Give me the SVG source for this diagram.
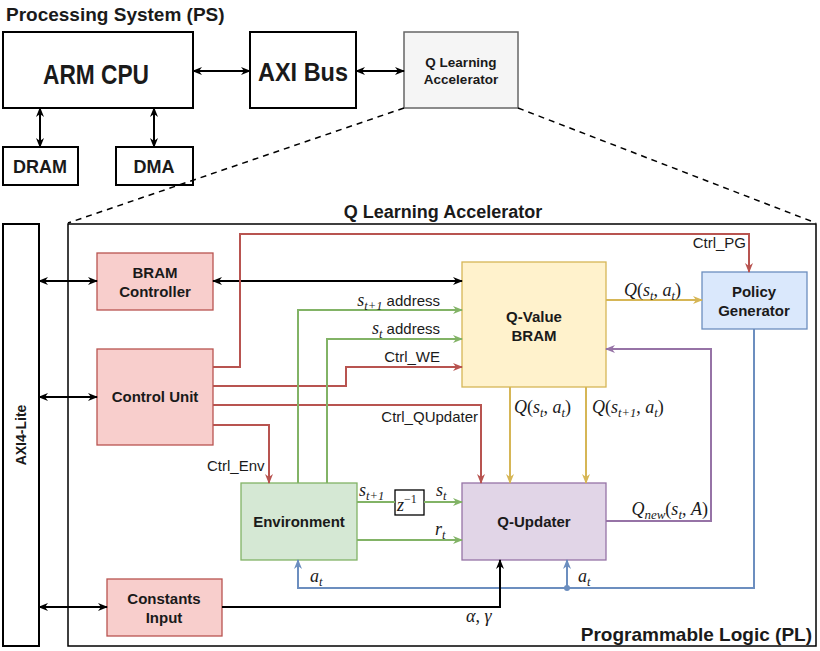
<svg xmlns="http://www.w3.org/2000/svg" width="820" height="651" viewBox="0 0 820 651">
<style>
.t{font-family:"Liberation Sans",Arial,sans-serif;}
.b{font-family:"Liberation Sans",Arial,sans-serif;font-weight:bold;fill:#1a1a1a;text-anchor:middle;}
.lbl{font-family:"Liberation Sans",Arial,sans-serif;font-size:15px;fill:#1a1a1a;}
.m{font-family:"Liberation Serif","Times New Roman",serif;font-style:italic;font-size:18px;fill:#1a1a1a;}
.mr{font-style:normal;}
.box{fill:#fff;stroke:#000;stroke-width:2;}
.red{fill:#f8cecc;stroke:#b85450;stroke-width:1.3;}
.c{fill:none;stroke-width:2;}
.cr{stroke:#b85450;} .cg{stroke:#82b366;} .cy{stroke:#d6b656;} .cb{stroke:#6c8ebf;} .cp{stroke:#9673a6;} .ck{stroke:#000;}
</style>
<defs>
<marker id="ak" viewBox="0 0 10 8" markerWidth="10" markerHeight="8" refX="9" refY="4" orient="auto-start-reverse" markerUnits="userSpaceOnUse"><path d="M0,0 L10,4 L0,8 L3,4 Z" fill="#000"/></marker>
<marker id="ar" viewBox="0 0 10 8" markerWidth="10" markerHeight="8" refX="9" refY="4" orient="auto-start-reverse" markerUnits="userSpaceOnUse"><path d="M0,0 L10,4 L0,8 L3,4 Z" fill="#b85450"/></marker>
<marker id="ag" viewBox="0 0 10 8" markerWidth="10" markerHeight="8" refX="9" refY="4" orient="auto-start-reverse" markerUnits="userSpaceOnUse"><path d="M0,0 L10,4 L0,8 L3,4 Z" fill="#82b366"/></marker>
<marker id="ay" viewBox="0 0 10 8" markerWidth="10" markerHeight="8" refX="9" refY="4" orient="auto-start-reverse" markerUnits="userSpaceOnUse"><path d="M0,0 L10,4 L0,8 L3,4 Z" fill="#d6b656"/></marker>
<marker id="ab" viewBox="0 0 10 8" markerWidth="10" markerHeight="8" refX="9" refY="4" orient="auto-start-reverse" markerUnits="userSpaceOnUse"><path d="M0,0 L10,4 L0,8 L3,4 Z" fill="#6c8ebf"/></marker>
<marker id="ap" viewBox="0 0 10 8" markerWidth="10" markerHeight="8" refX="9" refY="4" orient="auto-start-reverse" markerUnits="userSpaceOnUse"><path d="M0,0 L10,4 L0,8 L3,4 Z" fill="#9673a6"/></marker>
</defs>

<rect width="820" height="651" fill="#fff"/>

<text class="t" x="6" y="21" font-size="19" font-weight="bold" fill="#1a1a1a">Processing System (PS)</text>

<g id="arm-cpu"><rect class="box" x="3" y="32" width="190" height="76"/><text class="b" x="96" y="84" font-size="28" textLength="106" lengthAdjust="spacingAndGlyphs">ARM CPU</text></g>
<g id="axi-bus"><rect class="box" x="250" y="32" width="106" height="76"/><text class="b" x="303" y="81" font-size="26" textLength="90" lengthAdjust="spacingAndGlyphs">AXI Bus</text></g>
<g id="qla-small"><rect x="404" y="32" width="114" height="76" fill="#f5f5f5" stroke="#666" stroke-width="1.5"/><text class="b" x="461" y="67" font-size="13.5" fill="#333">Q Learning</text><text class="b" x="461" y="84" font-size="13.5" fill="#333">Accelerator</text></g>
<g id="dram"><rect class="box" x="3" y="147" width="75" height="38"/><text class="b" x="40" y="173" font-size="18">DRAM</text></g>
<g id="dma"><rect class="box" x="116" y="147" width="77" height="38"/><text class="b" x="154" y="173" font-size="18">DMA</text></g>

<g id="zoom-lines" fill="none" stroke="#000" stroke-width="1.5" stroke-dasharray="6,5">
<path d="M404,108 L68,223"/><path d="M518,108 L816,223"/>
</g>

<text class="b" x="443" y="218" font-size="18">Q Learning Accelerator</text>

<g id="pl-frame"><rect x="68" y="224" width="748" height="422" fill="none" stroke="#000" stroke-width="1.5"/>
<text class="t" x="812" y="641" font-size="19" font-weight="bold" fill="#1a1a1a" text-anchor="end">Programmable Logic (PL)</text></g>

<g id="axi4-lite"><rect class="box" x="3" y="224" width="36" height="422"/><text class="b" transform="translate(26,435) rotate(-90)" font-size="14">AXI4-Lite</text></g>

<g id="bram-controller"><rect class="red" x="97" y="253" width="116" height="57"/><text class="b" x="155" y="278" font-size="15">BRAM</text><text class="b" x="155" y="297" font-size="15">Controller</text></g>
<g id="control-unit"><rect class="red" x="97" y="349" width="116" height="96"/><text class="b" x="155" y="402" font-size="15">Control Unit</text></g>
<g id="constants-input"><rect class="red" x="107" y="579" width="115" height="57"/><text class="b" x="164" y="604" font-size="15">Constants</text><text class="b" x="164" y="623" font-size="15">Input</text></g>
<g id="q-value-bram"><rect x="462" y="262" width="144" height="125" fill="#fff2cc" stroke="#d6b656" stroke-width="1.3"/><text class="b" x="534" y="322" font-size="15">Q-Value</text><text class="b" x="534" y="341" font-size="15">BRAM</text></g>
<g id="policy-generator"><rect x="702" y="272" width="105" height="57" fill="#dae8fc" stroke="#6c8ebf" stroke-width="1.3"/><text class="b" x="754" y="297" font-size="15">Policy</text><text class="b" x="754" y="316" font-size="15">Generator</text></g>
<g id="environment"><rect x="241" y="483" width="116" height="77" fill="#d5e8d4" stroke="#82b366" stroke-width="1.3"/><text class="b" x="299" y="527" font-size="15">Environment</text></g>
<g id="q-updater"><rect x="462" y="483" width="144" height="77" fill="#e1d5e7" stroke="#9673a6" stroke-width="1.3"/><text class="b" x="534" y="527" font-size="15">Q-Updater</text></g>
<g id="z-delay"><rect x="395" y="490" width="29" height="25" fill="#fff" stroke="#000" stroke-width="1.3"/><text class="m" x="397" y="511">z<tspan class="mr" font-size="12" dy="-8">−1</tspan></text></g>

<g id="connectors">
<path class="c ck" stroke-width="1.6" d="M193,71 H250" marker-start="url(#ak)" marker-end="url(#ak)"/>
<path class="c ck" stroke-width="1.6" d="M356,71 H404" marker-start="url(#ak)" marker-end="url(#ak)"/>
<path class="c ck" stroke-width="1.6" d="M40,108 V147" marker-start="url(#ak)" marker-end="url(#ak)"/>
<path class="c ck" stroke-width="1.6" d="M154,108 V147" marker-start="url(#ak)" marker-end="url(#ak)"/>
<path class="c ck" stroke-width="1.6" d="M39,281 H97" marker-start="url(#ak)" marker-end="url(#ak)"/>
<path class="c ck" stroke-width="1.6" d="M39,397 H97" marker-start="url(#ak)" marker-end="url(#ak)"/>
<path class="c ck" stroke-width="1.6" d="M39,607 H107" marker-start="url(#ak)" marker-end="url(#ak)"/>
<path class="c ck" stroke-width="1.6" d="M213,281 H462" marker-start="url(#ak)" marker-end="url(#ak)"/>

<path class="c cr" d="M213,367 H240 V234 H749 V272" marker-end="url(#ar)"/>
<path class="c cr" d="M213,386 H346 V367 H462" marker-end="url(#ar)"/>
<path class="c cr" d="M213,405 H481 V483" marker-end="url(#ar)"/>
<path class="c cr" d="M213,425 H269 V483" marker-end="url(#ar)"/>

<path class="c cg" d="M298,483 V310 H462" marker-end="url(#ag)"/>
<path class="c cg" d="M327,483 V339 H462" marker-end="url(#ag)"/>
<path class="c cg" d="M357,502 H395"/>
<path class="c cg" d="M424,502 H462" marker-end="url(#ag)"/>
<path class="c cg" d="M357,540 H462" marker-end="url(#ag)"/>

<path class="c cy" d="M606,300 H702" marker-end="url(#ay)"/>
<path class="c cy" d="M510,387 V483" marker-end="url(#ay)"/>
<path class="c cy" d="M586,387 V483" marker-end="url(#ay)"/>

<path class="c cp" d="M606,521 H711 V349 H606" marker-end="url(#ap)"/>

<path class="c cb" d="M754,329 V588 H298 V560" marker-end="url(#ab)"/>
<path class="c cb" d="M567,588 V560" marker-end="url(#ab)"/>
<circle cx="567" cy="588" r="3" fill="#6c8ebf"/>

<path class="c ck" stroke-width="2.2" d="M222,607 H500 V560" marker-end="url(#ak)"/>
</g>

<g id="labels">
<text class="lbl" x="746" y="248" text-anchor="end">Ctrl_PG</text>
<text class="lbl" x="440" y="306" text-anchor="end"><tspan class="m">s<tspan font-size="12.5" dy="4">t+1</tspan></tspan><tspan dy="-4"> address</tspan></text>
<text class="lbl" x="440" y="334" text-anchor="end"><tspan class="m">s<tspan font-size="12.5" dy="4">t</tspan></tspan><tspan dy="-4"> address</tspan></text>
<text class="lbl" x="440" y="362" text-anchor="end">Ctrl_WE</text>
<text class="lbl" x="478" y="422" text-anchor="end">Ctrl_QUpdater</text>
<text class="lbl" x="207" y="471">Ctrl_Env</text>

<text class="m" x="624" y="296">Q<tspan class="mr">(</tspan>s<tspan font-size="12.5" dy="4">t</tspan><tspan dy="-4" class="mr">, </tspan>a<tspan font-size="12.5" dy="4">t</tspan><tspan dy="-4" class="mr">)</tspan></text>
<text class="m" x="514" y="413">Q<tspan class="mr">(</tspan>s<tspan font-size="12.5" dy="4">t</tspan><tspan dy="-4" class="mr">, </tspan>a<tspan font-size="12.5" dy="4">t</tspan><tspan dy="-4" class="mr">)</tspan></text>
<text class="m" x="592" y="413">Q<tspan class="mr">(</tspan>s<tspan font-size="12.5" dy="4">t+1</tspan><tspan dy="-4" class="mr">, </tspan>a<tspan font-size="12.5" dy="4">t</tspan><tspan dy="-4" class="mr">)</tspan></text>
<text class="m" x="708" y="515" text-anchor="end" font-size="19">Q<tspan font-size="13" dy="4">new</tspan><tspan dy="-4" class="mr">(</tspan>s<tspan font-size="13" dy="4">t</tspan><tspan dy="-4" class="mr">, </tspan>A<tspan class="mr">)</tspan></text>
<text class="m" x="359" y="496">s<tspan font-size="12.5" dy="4">t+1</tspan></text>
<text class="m" x="436" y="496">s<tspan font-size="12.5" dy="4">t</tspan></text>
<text class="m" x="435" y="535">r<tspan font-size="12.5" dy="4">t</tspan></text>
<text class="m" x="310" y="582">a<tspan font-size="12.5" dy="4">t</tspan></text>
<text class="m" x="578" y="582">a<tspan font-size="12.5" dy="4">t</tspan></text>
<text class="m" x="466" y="622">α<tspan class="mr">, </tspan>γ</text>
</g>
</svg>
